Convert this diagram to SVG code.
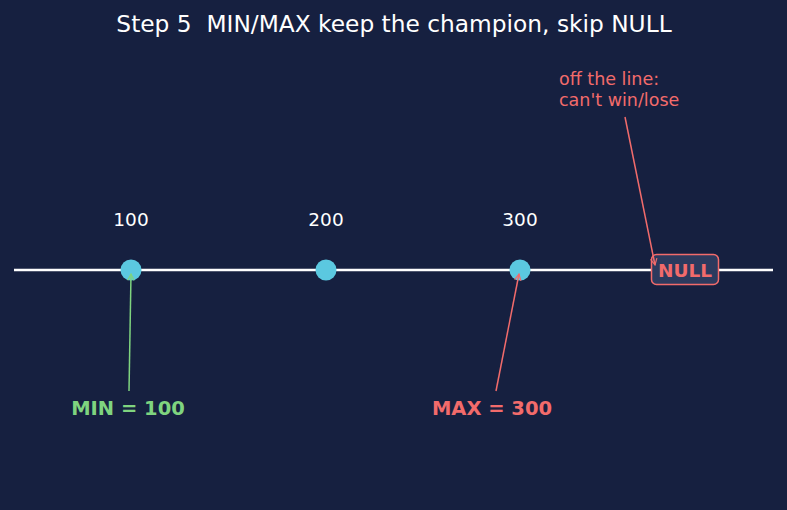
<svg xmlns="http://www.w3.org/2000/svg" width="787" height="510" viewBox="0 0 787 510">
<defs>
<style>
text{font-family:"DejaVu Sans",sans-serif}
.val{fill:#ffffff;font-size:18.5px;text-anchor:middle}
.pt{fill:#5bc8e0}
.lbl{font-size:19.5px;font-weight:bold;text-anchor:middle}
</style>
<marker id="ag" viewBox="0 0 10 10" refX="9" refY="5" markerWidth="8" markerHeight="8" orient="auto" markerUnits="userSpaceOnUse"><path d="M1,1 L9,5 L1,9" fill="none" stroke="#7fd47f" stroke-width="1.5"/></marker>
<marker id="ar" viewBox="0 0 10 10" refX="9" refY="5" markerWidth="8" markerHeight="8" orient="auto" markerUnits="userSpaceOnUse"><path d="M1,1 L9,5 L1,9" fill="none" stroke="#f26b6b" stroke-width="1.5"/></marker>
</defs>
<rect width="787" height="510" fill="#162040"/>
<text x="394" y="32" fill="#ffffff" font-size="23.3" text-anchor="middle" xml:space="preserve" style="white-space:pre">Step 5  MIN/MAX keep the champion, skip NULL</text>
<g id="axis"><line x1="14" y1="270" x2="773" y2="270" stroke="#ffffff" stroke-width="2.5"/></g>
<g id="n100"><circle class="pt" cx="131" cy="270" r="10.5"/><text class="val" x="131" y="226">100</text></g>
<g id="n200"><circle class="pt" cx="326" cy="270" r="10.5"/><text class="val" x="326" y="226">200</text></g>
<g id="n300"><circle class="pt" cx="520" cy="270" r="10.5"/><text class="val" x="520" y="226">300</text></g>
<g id="null"><rect x="651.5" y="254.5" width="67" height="30" rx="5" fill="#2c3a5e" stroke="#f26b6b" stroke-width="1.5"/><text x="685" y="277" fill="#f26b6b" font-size="18.5" font-weight="bold" text-anchor="middle">NULL</text></g>
<g id="min"><text class="lbl" x="128" y="415" fill="#7fd47f">MIN = 100</text></g>
<g id="max"><text class="lbl" x="492" y="415" fill="#f26b6b">MAX = 300</text></g>
<g id="note"><text x="559" y="85" fill="#f26b6b" font-size="17.5">off the line:</text><text x="559" y="106" fill="#f26b6b" font-size="17.5">can't win/lose</text></g>
<g id="connectors" fill="none" stroke-width="1.5">
<line x1="129" y1="391" x2="131" y2="274" stroke="#7fd47f" marker-end="url(#ag)"/>
<line x1="496" y1="391" x2="519" y2="274" stroke="#f26b6b" marker-end="url(#ar)"/>
<line x1="625" y1="117" x2="655" y2="265" stroke="#f26b6b" marker-end="url(#ar)"/>
</g>
</svg>
